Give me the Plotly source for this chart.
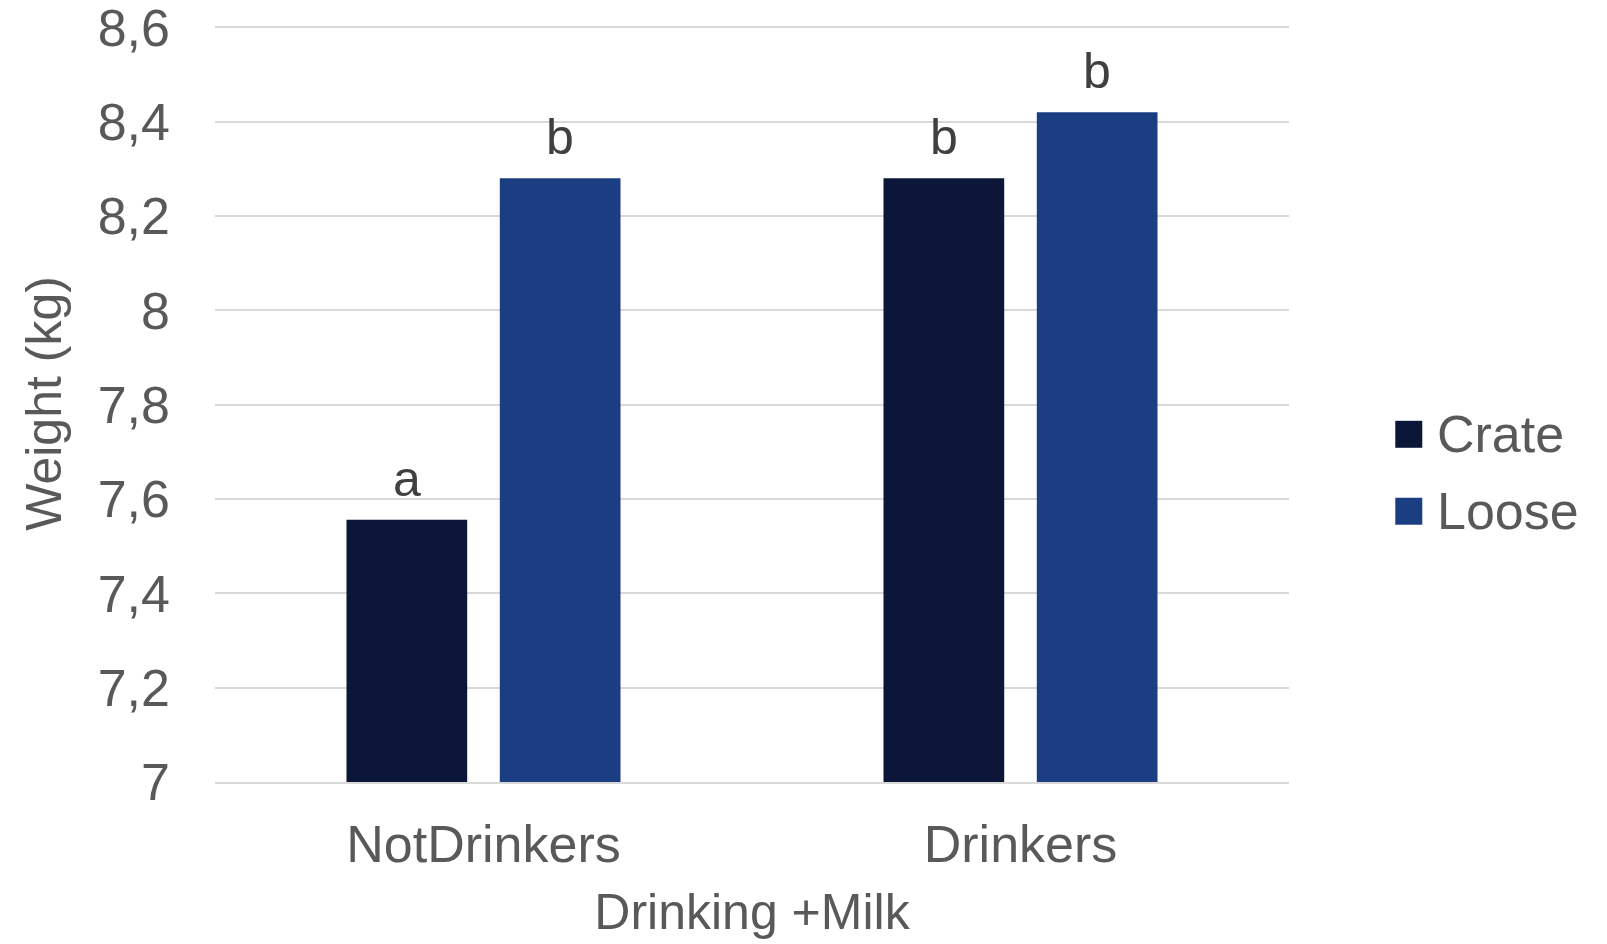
import plotly.graph_objects as go

# Data
groups = ["NotDrinkers", "Drinkers"]
crate = [7.556, 8.28]
loose = [8.28, 8.42]
crate_letters = ["a", "b"]
loose_letters = ["b", "b"]
y_ticks = [7, 7.2, 7.4, 7.6, 7.8, 8, 8.2, 8.4, 8.6]

# Styling
W, H = 1607, 944
Y_MIN, Y_TOP = 7.0, 8.6
Y_PAD = 0.005                      # small headroom so the top gridline/label are kept
TOP_PX, BOTTOM_PX = 27.0, 782.3    # pixel rows of 8.6 and 7
unit = (BOTTOM_PX - TOP_PX) / (Y_TOP - Y_MIN)
M_L, M_R = 214.5, 318.3
M_B = H - BOTTOM_PX
M_T = TOP_PX - Y_PAD * unit
C_CRATE = "#0c1639"
C_LOOSE = "#1b3d82"
GRID = "#d9d9d9"
TXT = "#595959"
FONT = "Liberation Sans, Arial, sans-serif"
BARGAP = 0.429
BARGROUPGAP = 0.2127

fig = go.Figure()
fig.add_trace(go.Bar(name="Crate", x=groups, y=crate, marker=dict(color=C_CRATE, line=dict(width=0)),
                     showlegend=False))
fig.add_trace(go.Bar(name="Loose", x=groups, y=loose, marker=dict(color=C_LOOSE, line=dict(width=0)),
                     showlegend=False))

# significance letters above each bar, centred over the bar slot
slot = (1 - BARGAP) / 2
annotations = []
for i in range(len(groups)):
    for off, val, letter in ((-slot / 2, crate[i], crate_letters[i]), (slot / 2, loose[i], loose_letters[i])):
        annotations.append(dict(x=i + off, y=val, xref="x", yref="y", text=letter, showarrow=False,
                                xanchor="center", yanchor="bottom", yshift=11,
                                font=dict(family=FONT, size=50, color="#404040")))

# legend drawn with paper-positioned swatches
pw = W - M_L - M_R
ph = H - M_T - M_B
def px(x):
    return (x - M_L) / pw
def py(y):
    return (H - M_B - y) / ph

shapes = []
for name, color, cy in (("Crate", C_CRATE, 434.3), ("Loose", C_LOOSE, 511.3)):
    shapes.append(dict(type="rect", xref="paper", yref="paper", x0=px(1395), x1=px(1422),
                       y0=py(cy + 13.5), y1=py(cy - 13.5), fillcolor=color, line=dict(width=0)))
    annotations.append(dict(x=px(1435), y=py(cy), xref="paper", yref="paper", text=name, showarrow=False,
                            xanchor="left", yanchor="middle", font=dict(family=FONT, size=52, color=TXT)))

fig.update_layout(
    width=W, height=H,
    margin=dict(l=M_L, r=M_R, t=M_T, b=M_B, autoexpand=False),
    paper_bgcolor="white", plot_bgcolor="white",
    barmode="group", bargap=BARGAP, bargroupgap=BARGROUPGAP,
    separators=",.",
    font=dict(family=FONT, color=TXT),
    annotations=annotations, shapes=shapes,
    showlegend=False,
)
fig.update_xaxes(
    type="category", showgrid=False, showline=True, linecolor=GRID, linewidth=2,
    ticks="", tickfont=dict(size=52, color=TXT), ticklabelstandoff=16,
    title=dict(text="Drinking +Milk", font=dict(size=50, color=TXT), standoff=22),
    automargin=False,
)
fig.update_yaxes(
    range=[Y_MIN, Y_TOP + Y_PAD], tickvals=y_ticks, showgrid=True, gridcolor=GRID, gridwidth=2,
    zeroline=False, showline=False, ticks="", tickfont=dict(size=52, color=TXT),
    ticklabelstandoff=44, ticklabeloverflow="allow",
    title=dict(text="Weight (kg)", font=dict(size=50, color=TXT), standoff=20),
    automargin=False,
)

fig.write_html("out.html")
